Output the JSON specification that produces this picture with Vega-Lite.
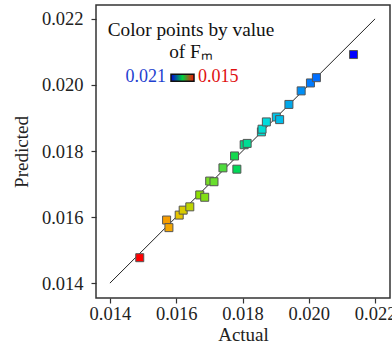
{
  "$schema": "https://vega.github.io/schema/vega-lite/v6.json",
  "width": 294,
  "height": 293,
  "autosize": {"type": "none"},
  "padding": {"left": 96, "top": 5, "right": 2, "bottom": 51},
  "datasets": {
    "pts": [
      {"Actual": 0.01490, "Predicted": 0.01477},
      {"Actual": 0.01571, "Predicted": 0.01591},
      {"Actual": 0.01578, "Predicted": 0.01568},
      {"Actual": 0.01609, "Predicted": 0.01606},
      {"Actual": 0.01621, "Predicted": 0.01621},
      {"Actual": 0.01641, "Predicted": 0.01631},
      {"Actual": 0.01671, "Predicted": 0.01667},
      {"Actual": 0.01686, "Predicted": 0.01660},
      {"Actual": 0.01701, "Predicted": 0.01709},
      {"Actual": 0.01714, "Predicted": 0.01707},
      {"Actual": 0.01741, "Predicted": 0.01749},
      {"Actual": 0.01783, "Predicted": 0.01745},
      {"Actual": 0.01776, "Predicted": 0.01785},
      {"Actual": 0.01805, "Predicted": 0.01819},
      {"Actual": 0.01814, "Predicted": 0.01823},
      {"Actual": 0.01857, "Predicted": 0.01858},
      {"Actual": 0.01859, "Predicted": 0.01866},
      {"Actual": 0.01872, "Predicted": 0.01888},
      {"Actual": 0.01902, "Predicted": 0.01903},
      {"Actual": 0.01912, "Predicted": 0.01895},
      {"Actual": 0.01940, "Predicted": 0.01941},
      {"Actual": 0.01977, "Predicted": 0.01982},
      {"Actual": 0.02005, "Predicted": 0.02006},
      {"Actual": 0.02023, "Predicted": 0.02022},
      {"Actual": 0.02135, "Predicted": 0.02092}
    ],
    "diag": [
      {"Actual": 0.014, "Predicted": 0.014},
      {"Actual": 0.022, "Predicted": 0.022}
    ]
  },
  "config": {
    "font": "Liberation Serif",
    "view": {"stroke": "#333333", "strokeWidth": 1.5},
    "axis": {
      "grid": false,
      "domain": false,
      "labelFont": "Liberation Serif",
      "labelFontSize": 18.5,
      "labelColor": "#222222",
      "titleFont": "Liberation Serif",
      "titleFontSize": 19,
      "titleFontWeight": "normal",
      "titleColor": "#222222",
      "tickColor": "#333333",
      "tickSize": 5,
      "tickWidth": 1.2
    }
  },
  "layer": [
    {
      "data": {"name": "diag"},
      "mark": {"type": "line", "color": "#222222", "strokeWidth": 1},
      "encoding": {
        "x": {"field": "Actual", "type": "quantitative", "scale": {"domain": [0.01358, 0.02245], "nice": false, "zero": false},
              "axis": {"title": "Actual", "labelPadding": 1, "titlePadding": 3, "values": [0.014, 0.016, 0.018, 0.020, 0.022], "format": ".3f"}},
        "y": {"field": "Predicted", "type": "quantitative", "scale": {"domain": [0.01355, 0.02242], "nice": false, "zero": false},
              "axis": {"title": "Predicted", "labelPadding": 8, "titlePadding": 10, "values": [0.014, 0.016, 0.018, 0.020, 0.022], "format": ".3f"}}
      }
    },
    {
      "data": {"name": "pts"},
      "mark": {"type": "square", "size": 64, "filled": true, "opacity": 1, "stroke": "#555555", "strokeWidth": 1},
      "encoding": {
        "x": {"field": "Actual", "type": "quantitative"},
        "y": {"field": "Predicted", "type": "quantitative"},
        "color": {
          "field": "Actual",
          "type": "quantitative",
          "scale": {
            "domain": [0.021, 0.0195, 0.0187, 0.0178, 0.0167, 0.016, 0.015],
            "range": ["#0000ff", "#1e9ee8", "#00dcdc", "#00d850", "#8ee000", "#f0c000", "#ff0000"],
            "clamp": true
          },
          "legend": {
            "orient": "none",
            "legendX": 12,
            "legendY": 16,
            "direction": "horizontal",
            "title": ["Color points by value", "of Fₘ"],
            "titleFont": "Liberation Serif",
            "titleFontSize": 19.3,
            "titleFontWeight": "normal",
            "titleColor": "#111111",
            "titleAlign": "center",
            "titleAnchor": "middle",
            "titleLineHeight": 22,
            "titlePadding": 12,
            "gradientLength": 23,
            "gradientThickness": 7,
            "gradientStrokeColor": "#111111",
            "gradientStrokeWidth": 1.5,
            "values": [0.021, 0.015],
            "format": ".3f",
            "labelFont": "Liberation Serif",
            "labelFontSize": 18,
            "encoding": {
              "labels": {
                "x": {"value": {"expr": "datum.value > 0.018 ? -21 : 11"}},
                "y": {"value": 8},
                "align": {"value": {"expr": "datum.value > 0.018 ? 'right' : 'left'"}},
                "baseline": {"value": "alphabetic"},
                "fill": {"value": {"expr": "datum.value > 0.018 ? '#1f3fd0' : '#e01010'"}}
              },
              "gradient": {
                "x": {"value": -16},
                "fill": {"value": {"gradient": "linear", "x1": 0, "x2": 1, "y1": 0, "y2": 0,
                  "stops": [
                    {"offset": 0, "color": "#0000e0"},
                    {"offset": 0.5, "color": "#00d040"},
                    {"offset": 1, "color": "#ff1000"}
                  ]}}
              }
            }
          }
        }
      }
    }
  ]
}
